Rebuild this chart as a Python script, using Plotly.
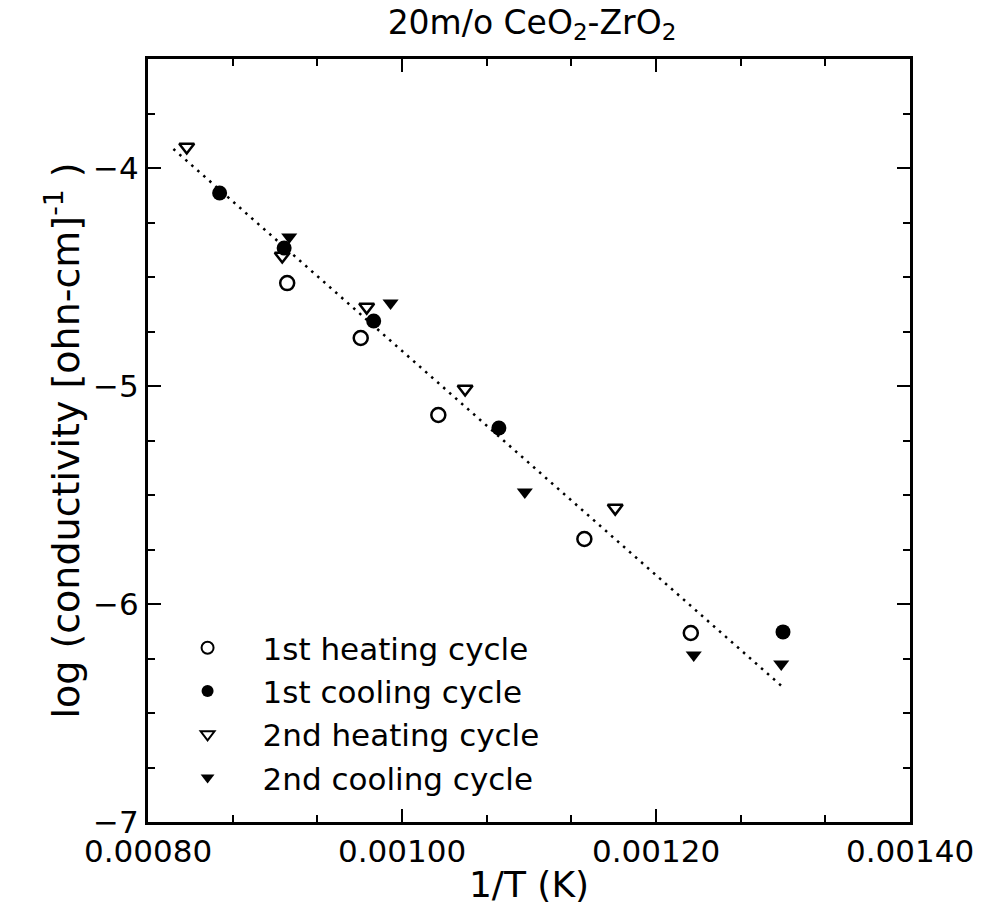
import plotly.graph_objects as go

# Reciprocal temperature 1/T (1/K) and log10 conductivity for each thermal cycle
heat1_x = [0.0009096, 0.0009675, 0.0010286, 0.0011436, 0.0012274]
heat1_y = [-4.528, -4.780, -5.133, -5.702, -6.133]

cool1_x = [0.0008564, 0.0009072, 0.0009777, 0.0010763, 0.0013000]
cool1_y = [-4.115, -4.367, -4.702, -5.193, -6.128]

heat2_x = [0.0008305, 0.0009057, 0.0009722, 0.0010497, 0.0011679]
heat2_y = [-3.904, -4.404, -4.638, -5.014, -5.560]

cool2_x = [0.0009112, 0.0009910, 0.0010967, 0.0012297, 0.0012986]
cool2_y = [-4.317, -4.619, -5.486, -6.234, -6.275]

# Arrhenius fit line end points
fit_x = [0.00082, 0.00130]
fit_y = [-3.913, -6.382]

x_ticks = [0.0008, 0.0010, 0.0012, 0.0014]
y_ticks = [-7, -6, -5, -4]

FONT = "DejaVu Sans, Liberation Sans, sans-serif"
BLACK = "black"

fig = go.Figure()

fig.add_trace(go.Scatter(
    x=fit_x, y=fit_y, mode="lines", showlegend=False,
    line=dict(color=BLACK, width=2.5, dash="2.5px,5.5px"),
))

fig.add_trace(go.Scatter(
    x=heat1_x, y=heat1_y, mode="markers", name="1st heating cycle",
    marker=dict(symbol="circle-open", size=14, color=BLACK,
                line=dict(width=2.5, color=BLACK)),
))
fig.add_trace(go.Scatter(
    x=cool1_x, y=cool1_y, mode="markers", name="1st cooling cycle",
    marker=dict(symbol="circle", size=15, color=BLACK),
))
fig.add_trace(go.Scatter(
    x=heat2_x, y=heat2_y, mode="markers", name="2nd heating cycle",
    marker=dict(symbol="triangle-down-open", size=13, color=BLACK,
                line=dict(width=2.5, color=BLACK)),
))
fig.add_trace(go.Scatter(
    x=cool2_x, y=cool2_y, mode="markers", name="2nd cooling cycle",
    marker=dict(symbol="triangle-down", size=14, color=BLACK),
))

axis_common = dict(
    showline=True, linecolor=BLACK, linewidth=3, mirror="ticks",
    ticks="inside", ticklen=13, tickwidth=2, tickcolor=BLACK,
    showgrid=False, zeroline=False,
    tickfont=dict(family=FONT, size=31, color=BLACK),
)

fig.update_xaxes(
    **axis_common,
    range=[0.0008, 0.0014], tickvals=x_ticks, tickformat=".5f",
    minor=dict(ticks="inside", ticklen=7, tickwidth=2, tickcolor=BLACK,
               tick0=0.0008, dtick=0.0002 / 3, showgrid=False),
    title=dict(text="1/T (K)", font=dict(family=FONT, size=36, color=BLACK),
               standoff=4),
)
fig.update_yaxes(
    **axis_common,
    range=[-7, -3.5], tickvals=y_ticks,
    minor=dict(ticks="inside", ticklen=7, tickwidth=2, tickcolor=BLACK,
               tick0=-7, dtick=0.25, showgrid=False),
    title=dict(text="log (conductivity [ohn-cm]<sup>-1</sup> )",
               font=dict(family=FONT, size=38, color=BLACK), standoff=2),
)

fig.update_layout(
    width=986, height=910,
    margin=dict(l=148, r=70, t=59, b=88),
    paper_bgcolor="white", plot_bgcolor="white",
    font=dict(family=FONT, color=BLACK),
    title=dict(text="20m/o CeO<sub>2</sub>-ZrO<sub>2</sub>",
               font=dict(family=FONT, size=33, color=BLACK),
               x=(148 + 916) / 2 / 986, xanchor="center",
               y=1 - 22 / 910, yanchor="middle"),
    legend=dict(x=0.006, y=0.2634, xanchor="left", yanchor="top",
                bgcolor="rgba(0,0,0,0)", borderwidth=0, itemwidth=100,
                font=dict(family=FONT, size=31, color=BLACK),
                itemsizing="constant", tracegroupgap=0),
)

fig.write_html("out.html")
